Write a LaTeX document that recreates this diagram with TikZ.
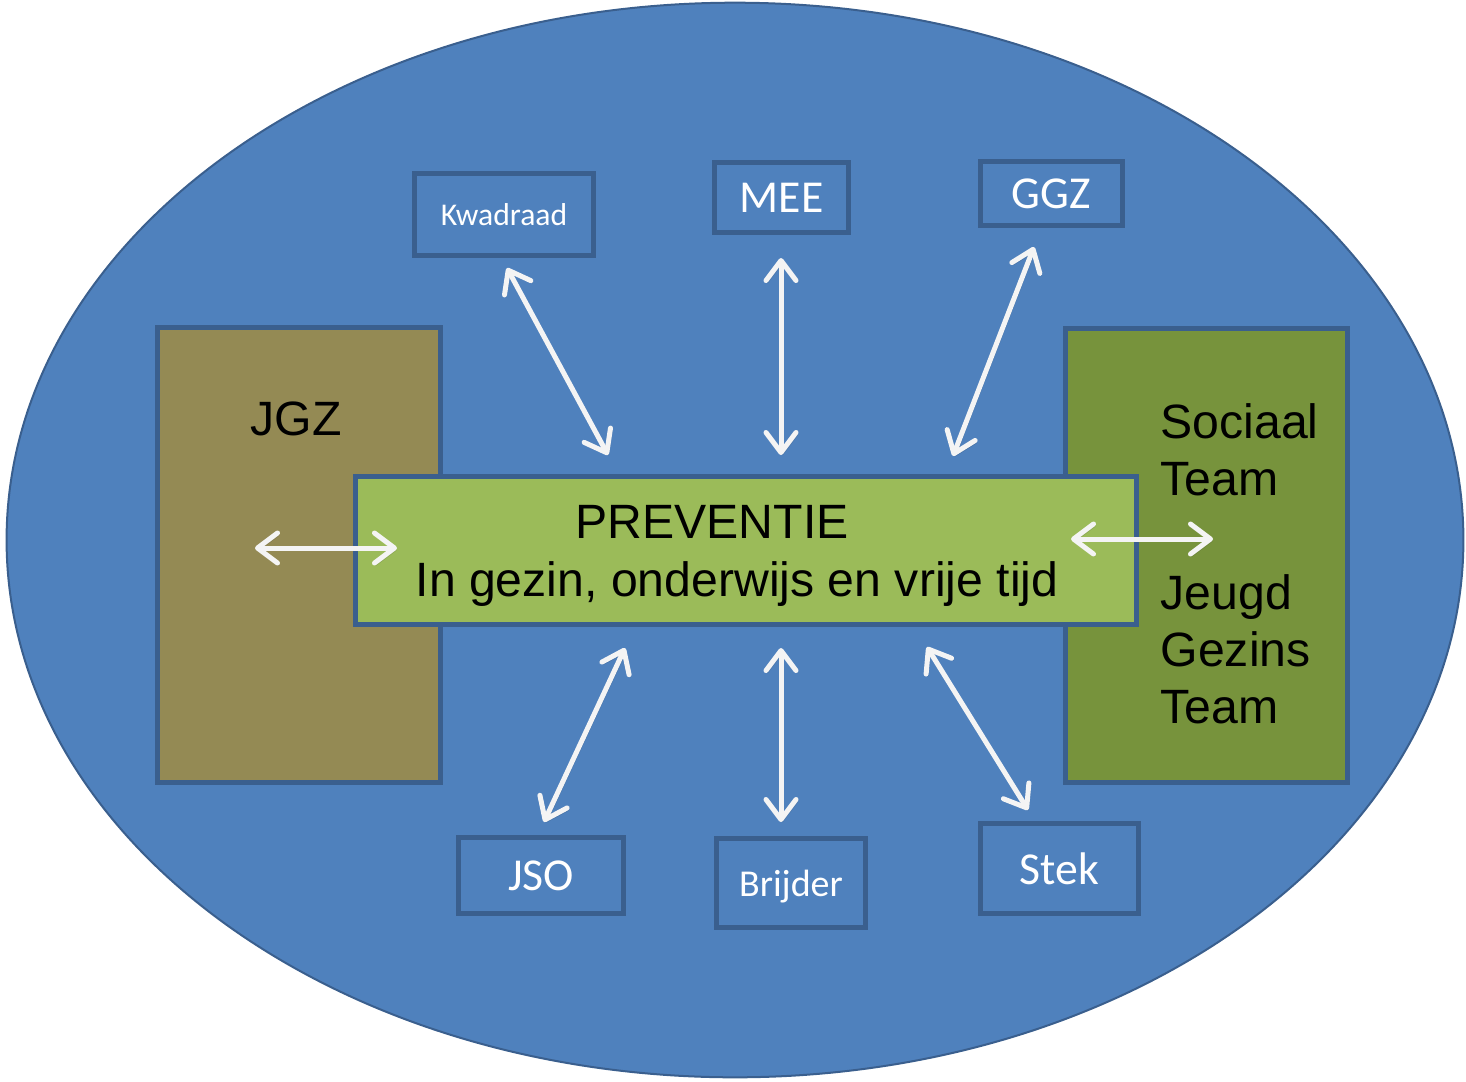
\documentclass[tikz,border=0pt]{standalone}
\usepackage{fontspec}
\setmainfont{Liberation Sans}
\newfontfamily\calibri{Carlito}
\usetikzlibrary{arrows.meta}
\definecolor{ovaal}{HTML}{4F81BD}
\definecolor{rand}{HTML}{3A5F8E}
\definecolor{jgzkleur}{HTML}{948A54}
\definecolor{teamkleur}{HTML}{77933C}
\definecolor{preventiekleur}{HTML}{9BBB59}
\definecolor{pijl}{HTML}{F4F4F4}
\tikzset{
  blok/.style={draw=rand, line width=0.05cm, inner sep=0pt},
  klein/.style={blok, fill=ovaal, text=white, text depth=0pt, font=\calibri\fontsize{13}{15}\selectfont},
  groot/.style={inner sep=0pt, font=\fontsize{13.7}{16.2}\selectfont},
  pijlen/.style={draw=pijl, line width=0.05cm, line cap=round,
    >={Straight Barb[length=0.2cm,width=0.3cm,line cap=round,line join=round]}, <->,
    preaction={draw=black, opacity=0.12, transform canvas={shift={(0.015cm,-0.02cm)}}}}
}
\begin{document}
\begin{tikzpicture}[x=0.01cm, y=-0.01cm]
            \useasboundingbox (0,0) rectangle (1466,1081);
            \coordinate (o) at (735,540);
            \draw[fill=ovaal, draw=rand, line width=0.02cm] (o) ellipse (7.28cm and 5.37cm);

            \node[blok, fill=jgzkleur, minimum width=2.83cm, minimum height=4.55cm] (jgz) at (299,555) {};
            \node[groot, anchor=base] (jgztekst) at (296,435) {JGZ};
            \node[blok, fill=teamkleur, minimum width=2.82cm, minimum height=4.54cm] (team) at (1206.5,555.5) {};
            \node[groot, anchor=base west, align=left] (teamtekst) at (1160,723) {Sociaal\\Team\\\mbox{}\\Jeugd\\Gezins\\Team};

            \node[blok, fill=preventiekleur, minimum width=7.81cm, minimum height=1.48cm] (preventie) at (746,550.5) {};
            \node[groot, anchor=base] (preventietitel) at (712,538) {PREVENTIE};
            \node[groot, anchor=base] (preventietekst) at (737,596) {In gezin, onderwijs en vrije tijd};

            \node[klein, minimum width=1.79cm, minimum height=0.82cm, font=\calibri\fontsize{9}{11}\selectfont] (kwadraad) at (504,214.5) {Kwadraad};
            \node[klein, minimum width=1.34cm, minimum height=0.70cm] (mee) at (781.5,197.5) {MEE};
            \node[klein, minimum width=1.42cm, minimum height=0.64cm] (ggz) at (1051.5,193.5) {GGZ};
            \node[klein, minimum width=1.65cm, minimum height=0.76cm] (jso) at (541,875.5) {JSO};
            \node[klein, minimum width=1.49cm, minimum height=0.89cm, font=\calibri\fontsize{10.8}{13}\selectfont] (brijder) at (791,883) {Brijder};
            \node[klein, minimum width=1.58cm, minimum height=0.90cm] (stek) at (1059.5,868.5) {Stek};

            \coordinate (kwadraadA) at (507,268);
            \coordinate (kwadraadB) at (608,455);
            \coordinate (meeA) at (781,258);
            \coordinate (meeB) at (781,455);
            \coordinate (ggzA) at (1034,247);
            \coordinate (ggzB) at (953,456);
            \coordinate (jsoA) at (625,648);
            \coordinate (jsoB) at (544,822);
            \coordinate (brijderA) at (781,648);
            \coordinate (brijderB) at (781,822);
            \coordinate (stekA) at (927,647);
            \coordinate (stekB) at (1028,810);
            \coordinate (jgzA) at (255,548);
            \coordinate (jgzB) at (397,548);
            \coordinate (teamA) at (1071,539);
            \coordinate (teamB) at (1213,539);

            \draw[pijlen] (kwadraadA) -- (kwadraadB);
            \draw[pijlen] (meeA) -- (meeB);
            \draw[pijlen] (ggzA) -- (ggzB);
            \draw[pijlen] (jsoA) -- (jsoB);
            \draw[pijlen] (brijderA) -- (brijderB);
            \draw[pijlen] (stekA) -- (stekB);
            \draw[pijlen] (jgzA) -- (jgzB);
            \draw[pijlen] (teamA) -- (teamB);
        \end{tikzpicture}
\end{document}
